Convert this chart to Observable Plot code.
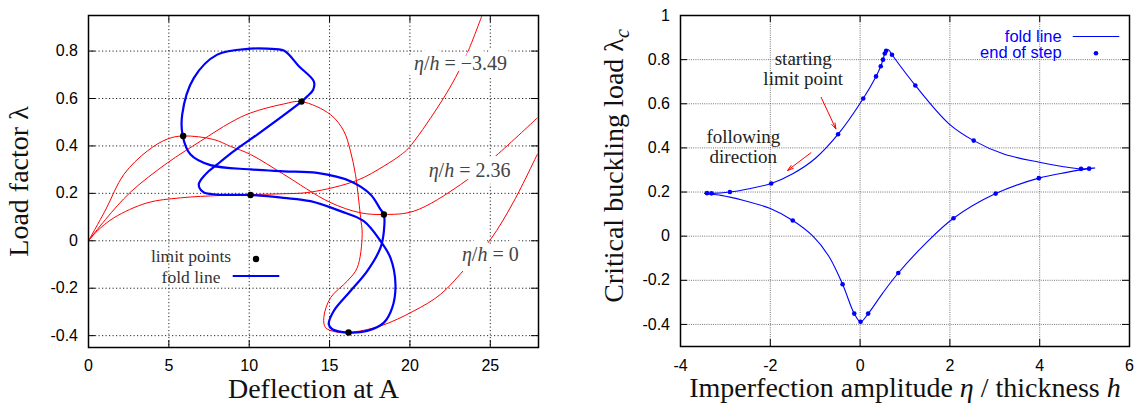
<!DOCTYPE html>
<html><head><meta charset="utf-8">
<script src="https://cdn.jsdelivr.net/npm/d3@7"></script>
<script src="https://cdn.jsdelivr.net/npm/@observablehq/plot@0.6"></script>
<style>
body{margin:0;background:#fff;}
#wrap{position:relative;width:1136px;height:403px;overflow:hidden;background:#fff;}
#left,#right{position:absolute;top:0;}
#left{left:0;} #right{left:568px;}
svg{overflow:visible;}
</style></head><body><div id="wrap"><div id="left"></div><div id="right"></div></div>
<script>
// ---------- LEFT CHART DATA ----------
const leftXTicks = [0, 5, 10, 15, 20, 25];
const leftYTicks = [-0.4, -0.2, 0, 0.2, 0.4, 0.6, 0.8];

// fold line (closed loop), deflection vs load factor
const foldU = [13.25, 10.50, 9.04, 8.01, 7.28, 6.86, 7.15, 8.00, 10.08, 12.15, 13.81, 15.68, 17.13, 18.17, 18.79, 19.10, 18.90, 18.38, 17.34, 16.18, 15.17, 14.95, 15.26, 16.30, 17.34, 18.17, 18.38, 18.38, 18.17, 17.55, 16.30, 14.23, 12.15, 10.08, 7.59, 6.35, 5.87, 5.83, 6.55, 8.01, 10.08, 11.12, 12.15, 13.09, 14.02, 13.98, 13.61];
const foldL = [0.587, 0.448, 0.378, 0.322, 0.280, 0.237, 0.205, 0.195, 0.193, 0.181, 0.167, 0.125, 0.083, -0.001, -0.072, -0.184, -0.282, -0.345, -0.380, -0.387, -0.373, -0.352, -0.296, -0.212, -0.128, -0.029, 0.041, 0.111, 0.132, 0.195, 0.251, 0.286, 0.293, 0.301, 0.319, 0.364, 0.440, 0.532, 0.686, 0.785, 0.810, 0.810, 0.802, 0.736, 0.672, 0.637, 0.609];

// equilibrium paths
const pathM349U = [0, 0.54, 1.58, 3.65, 5.72, 8.20, 10.08, 11.95, 13.80, 16.72, 18.38, 19.41, 19.93, 21.70, 22.84, 23.66, 24.46];
const pathM349L = [0, 0.041, 0.097, 0.160, 0.181, 0.191, 0.195, 0.198, 0.205, 0.255, 0.315, 0.361, 0.392, 0.560, 0.689, 0.806, 0.946];
const path236U = [0, 1.06, 2.20, 3.65, 4.90, 5.89, 7.80, 8.84, 10.08, 12.15, 15.00, 16.93, 18.38, 20.25, 23.15, 25.33, 27.92];
const path236L = [0, 0.130, 0.280, 0.378, 0.429, 0.442, 0.427, 0.398, 0.364, 0.280, 0.163, 0.118, 0.111, 0.125, 0.237, 0.357, 0.518];
const path0U = [0, 1.06, 2.61, 4.90, 6.97, 8.84, 10.08, 12.15, 13.25, 15.06, 15.89, 16.30, 16.61, 16.82, 16.93, 17.03, 16.72, 16.10, 15.06, 14.64, 14.75, 15.37, 16.18, 18.17, 20.24, 21.90, 23.57, 25.02, 26.47, 27.92];
const path0L = [0, 0.090, 0.205, 0.328, 0.420, 0.499, 0.539, 0.577, 0.587, 0.532, 0.462, 0.378, 0.280, 0.167, 0.097, 0.027, -0.114, -0.170, -0.240, -0.324, -0.366, -0.384, -0.387, -0.359, -0.296, -0.226, -0.107, 0.006, 0.167, 0.364];

const limitU = [5.89, 13.25, 10.08, 18.38, 16.18];
const limitL = [0.442, 0.587, 0.193, 0.111, -0.387];

const pathLabels = ["η/h = −3.49", "η/h = 2.36", "η/h = 0"];
const pathLabelU = [23.15, 23.71, 25.0];
const pathLabelL = [0.748, 0.298, -0.057];

// ---------- RIGHT CHART DATA ----------
const rightXTicks = [-4, -2, 0, 2, 4, 6];
const rightYTicks = [-0.4, -0.2, 0, 0.2, 0.4, 0.6, 0.8, 1];

const foldEta = [-3.47, -3.41, -3.31, -2.90, -2.50, -1.98, -1.50, -1.00, -0.49, 0.07, 0.355, 0.46, 0.51, 0.55, 0.58, 0.63, 0.71, 1.23, 1.98, 2.53, 3.20, 3.99, 4.50, 4.92, 5.23, 5.10, 4.60, 3.98, 3.02, 2.08, 1.45, 0.85, 0.50, 0.18, 0.01, -0.13, -0.39, -0.70, -1.05, -1.50, -2.00, -2.61, -3.10];
const foldLam = [0.193, 0.195, 0.194, 0.200, 0.214, 0.239, 0.283, 0.352, 0.462, 0.624, 0.724, 0.770, 0.800, 0.828, 0.840, 0.845, 0.822, 0.683, 0.509, 0.433, 0.372, 0.335, 0.316, 0.305, 0.309, 0.306, 0.289, 0.263, 0.193, 0.081, -0.035, -0.167, -0.259, -0.351, -0.388, -0.351, -0.218, -0.090, 0.000, 0.071, 0.125, 0.163, 0.185];

const stepEta = [-3.41, -3.31, -2.90, -1.98, -0.49, 0.07, 0.355, 0.46, 0.51, 0.55, 0.58, 0.71, 1.23, 2.53, 4.92, 5.10, 3.98, 3.02, 2.08, 0.85, 0.18, 0.01, -0.13, -0.39, -1.50];
const stepLam = [0.195, 0.194, 0.200, 0.239, 0.462, 0.624, 0.724, 0.770, 0.800, 0.828, 0.840, 0.822, 0.683, 0.433, 0.305, 0.306, 0.263, 0.193, 0.081, -0.167, -0.351, -0.388, -0.351, -0.218, 0.071];

const noteText = ["starting\nlimit point", "following\ndirection"];
const noteEta = [-1.267, -2.60];
const noteLam = [0.761, 0.404];
const arrowEta1 = [-0.867, -1.096];
const arrowLam1 = [0.629, 0.378];
const arrowEta2 = [-0.540, -1.615];
const arrowLam2 = [0.486, 0.298];

// ---------- helpers ----------
const SERIF = "'Liberation Serif','Times New Roman',Times,serif";
const SANS = "'Liberation Sans',Arial,Helvetica,sans-serif";
const fmt = d => String(d);
const rows = (xs, ys) => xs.map((x, i) => ({x, y: ys[i]}));

const RICH = {
  "η/h = −3.49": [["η", "i"], ["/"], ["h", "i"], [" = −3.49"]],
  "η/h = 2.36": [["η", "i"], ["/"], ["h", "i"], [" = 2.36"]],
  "η/h = 0": [["η", "i"], ["/"], ["h", "i"], [" = 0"]],
  "Critical buckling load λc": [["Critical buckling load λ"], ["c", "sub"]],
  "Imperfection amplitude η / thickness h": [["Imperfection amplitude "], ["η", "i"], [" / thickness "], ["h", "i"]]
};
function richify(svg) {
  d3.select(svg).selectAll("text").each(function () {
    const parts = RICH[this.textContent];
    if (!parts) return;
    const sel = d3.select(this);
    sel.text(null);
    for (const [s, st] of parts) {
      const t = sel.append("tspan").text(s);
      if (st === "i") t.attr("font-style", "italic");
      if (st === "sub") t.attr("font-style", "italic").attr("font-size", "0.72em").attr("dy", "0.28em");
    }
  });
}

// ---------- LEFT PLOT ----------
const LW = 568, LH = 403, LML = 88, LMR = 30, LMT = 15, LMB = 56;
const lfw = LW - LML - LMR, lfh = LH - LMT - LMB;
const gridStyleL = {stroke: "#000", strokeOpacity: 0.85, strokeDasharray: "1.2,2.3", strokeWidth: 1};
const labelRows = pathLabels.map((t, i) => ({t, x: pathLabelU[i], y: pathLabelL[i]}));
const left = Plot.plot({
  width: LW, height: LH, marginLeft: LML, marginRight: LMR, marginTop: LMT, marginBottom: LMB,
  x: {domain: [0, 28], label: null},
  y: {domain: [-0.45, 0.95], label: null},
  style: {fontFamily: SANS, fontSize: "16px", background: "white", overflow: "visible"},
  marks: [
    Plot.gridX(leftXTicks, gridStyleL),
    Plot.gridY(leftYTicks, gridStyleL),
    Plot.line(rows(pathM349U, pathM349L), {x: "x", y: "y", stroke: "#ff0000", strokeWidth: 1, curve: "catmull-rom", clip: true}),
    Plot.line(rows(path236U, path236L), {x: "x", y: "y", stroke: "#ff0000", strokeWidth: 1, curve: "catmull-rom", clip: true}),
    Plot.line(rows(path0U, path0L), {x: "x", y: "y", stroke: "#ff0000", strokeWidth: 1, curve: "catmull-rom", clip: true}),
    Plot.line(rows(foldU, foldL), {x: "x", y: "y", stroke: "#0000ff", strokeWidth: 2.2, curve: "catmull-rom-closed", clip: true}),
    // white knock-out box behind each label
    Plot.text(labelRows, {x: "x", y: "y", text: "t", fontFamily: SERIF, fontSize: 20, fill: "#fff", stroke: "#fff", strokeWidth: 14, strokeLinejoin: "round"}),
    Plot.text(labelRows, {x: "x", y: "y", text: "t", fontFamily: SERIF, fontSize: 20, fill: "#444"}),
    Plot.dot(rows(limitU, limitL), {x: "x", y: "y", r: 3.2, fill: "#000"}),
    Plot.frame({stroke: "#000", strokeWidth: 1.5}),
    Plot.tickX(leftXTicks, {x: d => d, insetTop: lfh - 7, stroke: "#000"}),
    Plot.tickX(leftXTicks, {x: d => d, insetBottom: lfh - 7, stroke: "#000"}),
    Plot.tickY(leftYTicks, {y: d => d, insetRight: lfw - 7, stroke: "#000"}),
    Plot.tickY(leftYTicks, {y: d => d, insetLeft: lfw - 7, stroke: "#000"}),
    Plot.axisX(leftXTicks, {tickSize: 0, tickPadding: 12, tickFormat: fmt, label: null, fontSize: 16}),
    Plot.axisY(leftYTicks, {tickSize: 0, tickPadding: 10.5, tickFormat: fmt, label: null, fontSize: 16}),
    Plot.text(["Deflection at A"], {frameAnchor: "bottom", dy: 42, text: d => d, fontFamily: SERIF, fontSize: 28, fill: "#111", lineAnchor: "middle", textAnchor: "middle"}),
    Plot.text(["Load factor λ"], {frameAnchor: "left", dx: -69, rotate: -90, text: d => d, fontFamily: SERIF, fontSize: 28, fill: "#111", lineAnchor: "middle", textAnchor: "middle"})
  ]
});
richify(left);
{
  const g = d3.select(left).append("g");
  g.append("text").attr("x", 191).attr("y", 262).attr("text-anchor", "middle").attr("font-family", SERIF).attr("font-size", 17.5).attr("fill", "#333").text("limit points");
  g.append("circle").attr("cx", 256).attr("cy", 259).attr("r", 3.2).attr("fill", "#000");
  g.append("text").attr("x", 191).attr("y", 282.5).attr("text-anchor", "middle").attr("font-family", SERIF).attr("font-size", 17.5).attr("fill", "#333").text("fold line");
  g.append("line").attr("x1", 232.7).attr("x2", 279.3).attr("y1", 276).attr("y2", 276).attr("stroke", "#0000ff").attr("stroke-width", 2.2);
}
document.getElementById("left").appendChild(left);

// ---------- RIGHT PLOT ----------
const RW = 568, RH = 403, RML = 112, RMR = 7, RMT = 15, RMB = 57;
const rfw = RW - RML - RMR, rfh = RH - RMT - RMB;
const gridStyleR = {stroke: "#666", strokeOpacity: 0.9, strokeDasharray: "1,1.2", strokeWidth: 1};
const right = Plot.plot({
  width: RW, height: RH, marginLeft: RML, marginRight: RMR, marginTop: RMT, marginBottom: RMB,
  x: {domain: [-4, 6], label: null},
  y: {domain: [-0.5, 1], label: null},
  style: {fontFamily: SANS, fontSize: "16px", background: "white", overflow: "visible"},
  marks: [
    Plot.gridX(rightXTicks, gridStyleR),
    Plot.gridY(rightYTicks, gridStyleR),
    Plot.line(rows(foldEta, foldLam), {x: "x", y: "y", stroke: "#0000ff", strokeWidth: 1.1, curve: "catmull-rom-closed"}),
    Plot.dot(rows(stepEta, stepLam), {x: "x", y: "y", r: 2.3, fill: "#0000ff"}),
    Plot.text(noteText.map((t, i) => ({t, x: noteEta[i], y: noteLam[i]})), {x: "x", y: "y", text: "t", fontFamily: SERIF, fontSize: 19, lineHeight: 1.05, fill: "#222"}),
    Plot.arrow(arrowEta1.map((e, i) => ({x1: e, y1: arrowLam1[i], x2: arrowEta2[i], y2: arrowLam2[i]})), {x1: "x1", y1: "y1", x2: "x2", y2: "y2", stroke: "#ff0000", strokeWidth: 1, headLength: 9, headAngle: 35}),
    Plot.frame({stroke: "#000", strokeWidth: 1.5}),
    Plot.tickX(rightXTicks, {x: d => d, insetTop: rfh - 7, stroke: "#000"}),
    Plot.tickX(rightXTicks, {x: d => d, insetBottom: rfh - 7, stroke: "#000"}),
    Plot.tickY(rightYTicks, {y: d => d, insetRight: rfw - 7, stroke: "#000"}),
    Plot.tickY(rightYTicks, {y: d => d, insetLeft: rfw - 7, stroke: "#000"}),
    Plot.axisX(rightXTicks, {tickSize: 0, tickPadding: 13, tickFormat: fmt, label: null, fontSize: 16}),
    Plot.axisY(rightYTicks, {tickSize: 0, tickPadding: 10.5, tickFormat: fmt, label: null, fontSize: 16}),
    Plot.text(["Imperfection amplitude η / thickness h"], {frameAnchor: "bottom", dy: 42, text: d => d, fontFamily: SERIF, fontSize: 28, fill: "#111", lineAnchor: "middle", textAnchor: "middle"}),
    Plot.text(["Critical buckling load λc"], {frameAnchor: "left", dx: -66, dy: -15, rotate: -90, text: d => d, fontFamily: SERIF, fontSize: 28, fill: "#111", lineAnchor: "middle", textAnchor: "middle"})
  ]
});
richify(right);
{
  const g = d3.select(right).append("g");
  g.append("text").attr("x", 493.7).attr("y", 41.7).attr("text-anchor", "end").attr("font-family", SANS).attr("font-size", 16.5).attr("fill", "#0000ff").text("fold line");
  g.append("line").attr("x1", 504.7).attr("x2", 551.3).attr("y1", 36.5).attr("y2", 36.5).attr("stroke", "#0000ff").attr("stroke-width", 1.1);
  g.append("text").attr("x", 493.7).attr("y", 58.3).attr("text-anchor", "end").attr("font-family", SANS).attr("font-size", 16.5).attr("fill", "#0000ff").text("end of step");
  g.append("circle").attr("cx", 528).attr("cy", 53.3).attr("r", 2.3).attr("fill", "#0000ff");
}
document.getElementById("right").appendChild(right);
</script>
</body></html>
